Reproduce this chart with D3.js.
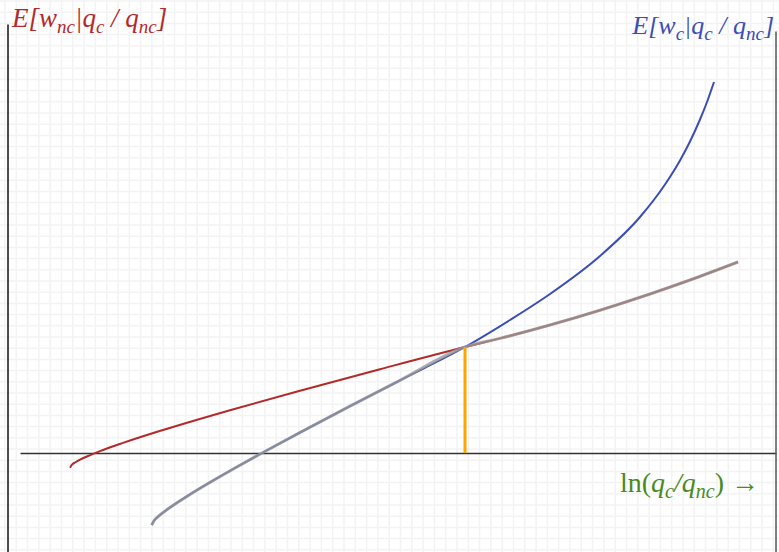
<!DOCTYPE html>
<html>
<head>
<meta charset="utf-8">
<script src="https://cdn.jsdelivr.net/npm/d3@7"></script>
<style>
  html, body { margin: 0; padding: 0; background: #fff; }
  svg { display: block; }
</style>
</head>
<body>
<div id="chart"></div>
<script>
/* Data (x = ln(qc/qnc), kink at 0; y = expected wage, axis at 0) */
const redX = [-3.95, -3.93, -3.90, -3.85, -3.77, -3.65, -3.42, -3.02, -2.35, -1.65, -0.85, 0, 0.35, 0.85, 1.35, 1.85, 2.25, 2.73];
const redY = [-0.147, -0.116, -0.095, -0.067, -0.03, 0.019, 0.101, 0.23, 0.428, 0.623, 0.838, 1.06, 1.146, 1.28, 1.428, 1.59, 1.73, 1.91];
const blueX = [-3.133, -3.11, -3.07, -3.0, -2.9, -2.75, -2.55, -2.25, -2.03, -1.65, -1.15, -0.65, 0, 0.45, 0.85, 1.35, 1.75, 2.0, 2.15, 2.25, 2.35, 2.42, 2.49];
const blueY = [-0.72, -0.677, -0.637, -0.581, -0.511, -0.414, -0.294, -0.122, 0, 0.205, 0.468, 0.727, 1.06, 1.33, 1.59, 1.97, 2.36, 2.685, 2.925, 3.115, 3.335, 3.51, 3.71];
const kinkX = 0;
const kinkY = 1.06;

const COLORS = {
  red: '#b32a2a',
  blue: '#3b4db6',
  green: '#4a8a1f',
  orange: '#ffa500',
  grey: '#9a9a9a',
  grid: '#f3f3f3'
};

const width = 779;
const height = 552;

const svg = d3.select('#chart')
  .append('svg')
  .attr('width', width)
  .attr('height', height);

const x = d3.scaleLinear().domain([-4.45, 3.11]).range([20, 776]);
const y = d3.scaleLinear().domain([-0.99, 4.28]).range([552, 25]);

// background grid
const grid = svg.append('g').attr('stroke', COLORS.grid).attr('stroke-width', 1.5);
d3.range(5, width, 11.3).forEach(px => {
  grid.append('line').attr('x1', px).attr('x2', px).attr('y1', 0).attr('y2', height);
});
d3.range(1, height, 11.2).forEach(py => {
  grid.append('line').attr('y1', py).attr('y2', py).attr('x1', 0).attr('x2', width);
});

// axes (lines only, no ticks)
svg.append('g')
  .attr('transform', `translate(0,${y(0)})`)
  .call(d3.axisBottom(x).ticks(0).tickSizeOuter(0))
  .call(g => g.select('.domain').attr('stroke', '#333').attr('stroke-width', 1.5));

const yLeft = d3.scaleLinear().domain([0, 1]).range([552, 24]);
svg.append('g')
  .attr('transform', 'translate(7.5,0)')
  .call(d3.axisLeft(yLeft).ticks(0).tickSizeOuter(0))
  .call(g => g.select('.domain').attr('stroke', '#111').attr('stroke-width', 1.5));

const yRight = d3.scaleLinear().domain([0, 1]).range([552, 31]);
svg.append('g')
  .attr('transform', 'translate(775.5,0)')
  .call(d3.axisRight(yRight).ticks(0).tickSizeOuter(0))
  .call(g => g.select('.domain').attr('stroke', '#555').attr('stroke-width', 1.5));

const line = d3.line()
  .x(d => x(d[0]))
  .y(d => y(d[1]))
  .curve(d3.curveMonotoneX);

const red = redX.map((v, i) => [v, redY[i]]);
const blue = blueX.map((v, i) => [v, blueY[i]]);
const envelope = blue.filter(d => d[0] <= kinkX).concat(red.filter(d => d[0] > kinkX));

svg.append('path')
  .attr('d', line(red))
  .attr('fill', 'none')
  .attr('stroke', COLORS.red)
  .attr('stroke-width', 2);

svg.append('path')
  .attr('d', line(blue))
  .attr('fill', 'none')
  .attr('stroke', COLORS.blue)
  .attr('stroke-width', 2);

svg.append('path')
  .attr('d', line(envelope))
  .attr('fill', 'none')
  .attr('stroke', COLORS.grey)
  .attr('stroke-opacity', 0.8)
  .attr('stroke-width', 3);

svg.append('line')
  .attr('x1', x(kinkX)).attr('x2', x(kinkX))
  .attr('y1', y(0)).attr('y2', y(kinkY))
  .attr('stroke', COLORS.orange)
  .attr('stroke-width', 3);

// labels: parts are [text, isSubscript, isItalic]
function label (parts, px, py, color, anchor, size) {
  const t = svg.append('text')
    .attr('x', px)
    .attr('y', py)
    .attr('text-anchor', anchor)
    .attr('fill', color)
    .style('font-family', '"Liberation Serif", "DejaVu Serif", serif')
    .style('font-size', size + 'px');
  let prevSub = false;
  parts.forEach(([txt, sub, italic]) => {
    const s = t.append('tspan')
      .text(txt)
      .style('font-style', italic === false ? 'normal' : 'italic')
      .attr('dy', sub && !prevSub ? 6 : (!sub && prevSub ? -6 : 0));
    if (sub) s.style('font-size', Math.round(size * 0.72) + 'px');
    prevSub = !!sub;
  });
  return t;
}

label([['E[w'], ['nc', true], ['|q'], ['c', true], [' / q'], ['nc', true], [']']], 12, 27, COLORS.red, 'start', 27);
label([['E[w'], ['c', true], ['|q'], ['c', true], [' / q'], ['nc', true], [']']], 774, 34, COLORS.blue, 'end', 26);
label([['ln(', false, false], ['q'], ['c', true], ['/q'], ['nc', true], [') \u2192', false, false]], 620, 492, COLORS.green, 'start', 28);
</script>
</body>
</html>
